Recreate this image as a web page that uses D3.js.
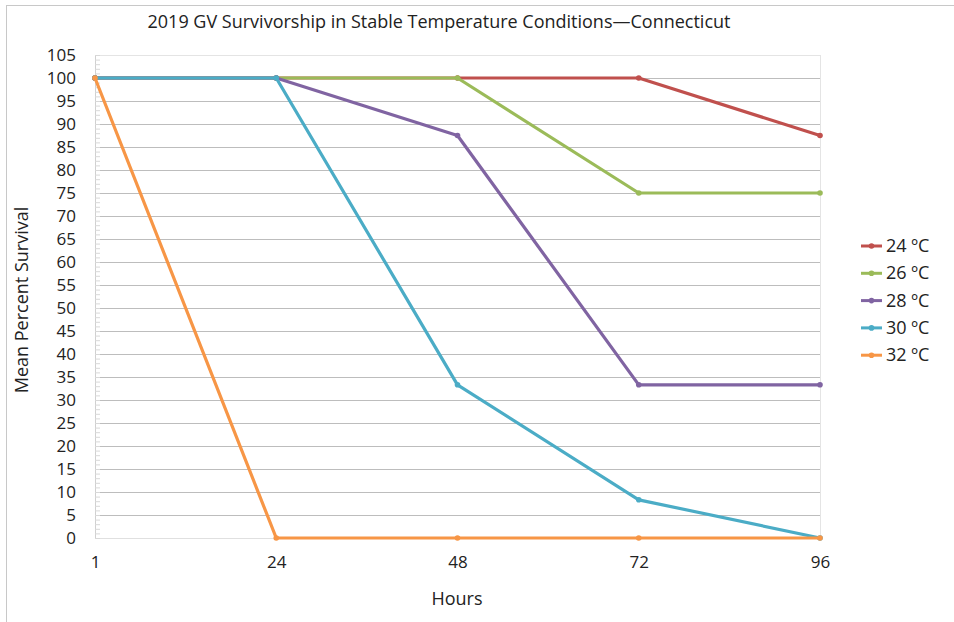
<!DOCTYPE html>
<html><head><meta charset="utf-8">
<script src="https://cdn.jsdelivr.net/npm/d3@7"></script>
<style>body{margin:0;background:#fff}svg{display:block}text{font-family:"Open Sans",sans-serif;fill:#222}</style>
</head><body>
<script>
const hours = ["1","24","48","72","96"];
const seriesNames = ["24 ºC","26 ºC","28 ºC","30 ºC","32 ºC"];
const s24 = [100,100,100,100,87.5];
const s26 = [100,100,100,75,75];
const s28 = [100,100,87.5,33.3,33.3];
const s30 = [100,100,33.3,8.3,0];
const s32 = [100,0,0,0,0];
const colors = ["#c0504d","#9bbb59","#8064a2","#4bacc6","#f79646"];
const yTicks = d3.range(0,106,5);
const series = [s24,s26,s28,s30,s32];

const W=954,H=622;
const svg=d3.select("body").append("svg").attr("width",W).attr("height",H);
svg.append("rect").attr("x",6.5).attr("y",5.5).attr("width",W).attr("height",H).attr("fill","none").attr("stroke","#c8c8c8");

const m={l:95,r:820,t:55,b:538};
const x=d3.scalePoint().domain(hours).range([m.l,m.r]);
const y=d3.scaleLinear().domain([0,105]).range([m.b,m.t]);

// gridlines
svg.append("g").selectAll("line").data(yTicks.filter(d=>d>0)).join("line")
 .attr("x1",m.l).attr("x2",m.r).attr("y1",d=>y(d)+0.5).attr("y2",d=>y(d)+0.5)
 .attr("stroke",d=>d===105?"#e4e4e4":"#bdbdbd").attr("stroke-width",1);
svg.append("line").attr("x1",m.r+0.5).attr("x2",m.r+0.5).attr("y1",m.t).attr("y2",m.b).attr("stroke","#e4e4e4");
svg.append("line").attr("x1",m.l).attr("x2",m.r).attr("y1",m.b+0.5).attr("y2",m.b+0.5).attr("stroke","#e0e0e0");

// y axis
const ya=svg.append("g").attr("transform",`translate(${m.l},0)`)
 .call(d3.axisLeft(y).tickValues(yTicks).tickSize(0).tickPadding(19));
ya.select(".domain").attr("stroke","#d0d0d0");
ya.selectAll("text").style("font-size","17px").attr("fill","#222");
// minor ticks
svg.append("g").selectAll("line").data(d3.range(0,106,1)).join("line")
 .attr("x1",m.l).attr("x2",m.l+5).attr("y1",d=>y(d)+0.5).attr("y2",d=>y(d)+0.5)
 .attr("stroke","#d8d8d8");

// x axis labels
const xa=svg.append("g").attr("transform",`translate(0,${m.b})`)
 .call(d3.axisBottom(x).tickSize(0).tickPadding(18));
xa.select(".domain").remove();
xa.selectAll("text").style("font-size","17px").attr("fill","#222");

// lines
const line=d3.line().x((d,i)=>x(hours[i])).y(d=>y(d));
series.forEach((s,k)=>{
  svg.append("path").datum(s).attr("d",line).attr("fill","none")
   .attr("stroke",colors[k]).attr("stroke-width",3.2).attr("stroke-linejoin","round");
  svg.append("g").selectAll("circle").data(s).join("circle")
   .attr("cx",(d,i)=>x(hours[i])).attr("cy",d=>y(d)).attr("r",2.8).attr("fill",colors[k]);
});

// title
svg.append("text").attr("x",439).attr("y",28).attr("text-anchor","middle")
 .style("font-size","18px").text("2019 GV Survivorship in Stable Temperature Conditions—Connecticut");
// axis titles
svg.append("text").attr("x",457).attr("y",605).attr("text-anchor","middle")
 .style("font-size","18px").text("Hours");
svg.append("text").attr("transform","translate(28,300) rotate(-90)").attr("text-anchor","middle")
 .style("font-size","18px").text("Mean Percent Survival");

// legend
const lg=svg.append("g");
seriesNames.forEach((n,k)=>{
  const yy=246+k*27.3;
  lg.append("line").attr("x1",861).attr("x2",882).attr("y1",yy).attr("y2",yy).attr("stroke",colors[k]).attr("stroke-width",3);
  lg.append("circle").attr("cx",871.5).attr("cy",yy).attr("r",2.8).attr("fill",colors[k]);
  lg.append("text").attr("x",886).attr("y",yy+6).style("font-size","18px").text(n);
});
</script>
</body></html>
